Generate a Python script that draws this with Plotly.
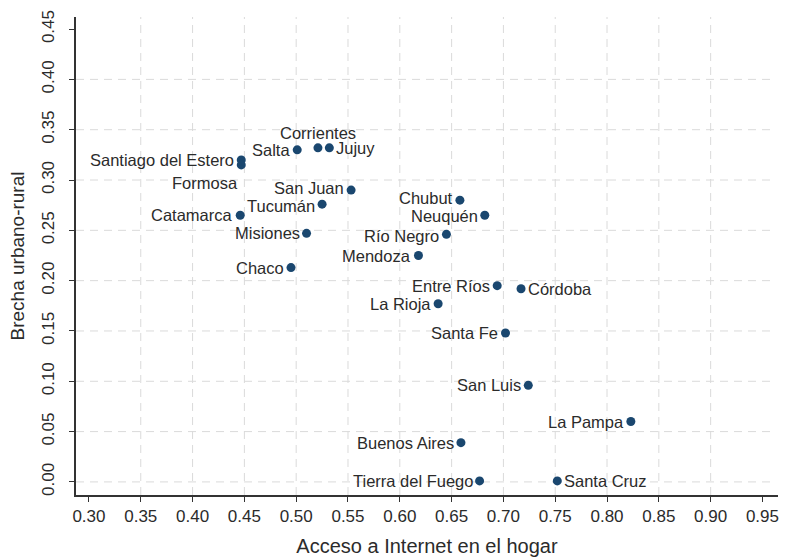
import plotly.graph_objects as go

# Provincias argentinas: acceso a Internet en el hogar vs. brecha urbano-rural
provinces = [
    "Salta", "Corrientes", "Jujuy", "Santiago del Estero", "Formosa",
    "San Juan", "Tucumán", "Chubut", "Neuquén", "Catamarca", "Misiones",
    "Río Negro", "Mendoza", "Chaco", "Entre Ríos", "Córdoba", "La Rioja",
    "Santa Fe", "San Luis", "La Pampa", "Buenos Aires", "Tierra del Fuego",
    "Santa Cruz",
]
internet = [
    0.501, 0.521, 0.532, 0.447, 0.447,
    0.553, 0.525, 0.658, 0.682, 0.446, 0.510,
    0.645, 0.618, 0.495, 0.694, 0.717, 0.637,
    0.702, 0.724, 0.823, 0.659, 0.677,
    0.752,
]
brecha = [
    0.330, 0.332, 0.332, 0.320, 0.315,
    0.290, 0.276, 0.280, 0.265, 0.265, 0.247,
    0.246, 0.225, 0.213, 0.195, 0.192, 0.177,
    0.148, 0.096, 0.060, 0.039, 0.001,
    0.001,
]

x_ticks = [0.30, 0.35, 0.40, 0.45, 0.50, 0.55, 0.60, 0.65, 0.70, 0.75,
           0.80, 0.85, 0.90, 0.95]
y_ticks = [0.00, 0.05, 0.10, 0.15, 0.20, 0.25, 0.30, 0.35, 0.40, 0.45]

# label placement, as clock positions around each marker
label_clock = {
    "Corrientes": 12, "Jujuy": 3, "Córdoba": 3, "Santa Cruz": 3, "Formosa": 7,
}
# small vertical nudges (px) for crowded labels
label_nudge = {"San Juan": 2, "Tucumán": -2, "Chubut": 2, "Neuquén": -1,
               "Río Negro": -2}

MARKER = "#1a476f"
TEXT = "#2b2b2b"
FONT = "Liberation Sans, Arial, sans-serif"

fig = go.Figure()
fig.add_trace(go.Scatter(
    x=internet, y=brecha, mode="markers",
    marker=dict(color=MARKER, size=9, line=dict(width=0)),
    hoverinfo="text", text=provinces, showlegend=False,
))

offsets = {
    9: dict(xanchor="right", yanchor="middle", xshift=-6, yshift=0),
    3: dict(xanchor="left", yanchor="middle", xshift=6, yshift=0),
    12: dict(xanchor="center", yanchor="bottom", xshift=0, yshift=5),
    7: dict(xanchor="right", yanchor="top", xshift=-2, yshift=-8),
}
annotations = []
for name, xv, yv in zip(provinces, internet, brecha):
    pos = dict(offsets[label_clock.get(name, 9)])
    pos["yshift"] += label_nudge.get(name, 0)
    annotations.append(dict(
        x=xv, y=yv, xref="x", yref="y", text=name, showarrow=False,
        borderpad=0, font=dict(family=FONT, size=16.5, color=TEXT), **pos,
    ))

# dashed grid, omitting the outermost ticks
shapes = []
grid = dict(color="#dadada", width=1, dash="8px,6px")
for xv in x_ticks[1:-1]:
    shapes.append(dict(type="line", xref="x", yref="paper", x0=xv, x1=xv,
                       y0=0, y1=1, line=grid, layer="below"))
for yv in y_ticks[:-1]:
    shapes.append(dict(type="line", xref="paper", yref="y", x0=0, x1=0.995,
                       y0=yv, y1=yv, line=grid, layer="below"))

fig.update_layout(
    width=785, height=558,
    margin=dict(l=76, r=7, t=17, b=63),
    paper_bgcolor="white", plot_bgcolor="white",
    font=dict(family=FONT, size=17, color=TEXT),
    annotations=annotations, shapes=shapes,
    xaxis=dict(
        range=[0.2875, 0.965], tickvals=x_ticks, automargin=False,
        ticktext=[f"{v:.2f}" for v in x_ticks],
        showgrid=False, zeroline=False, showline=True, linecolor="#333333",
        linewidth=1.5, ticks="outside", ticklen=5, tickcolor="#333333",
        tickfont=dict(size=17, color=TEXT),
        title=dict(text="Acceso a Internet en el hogar", standoff=14,
                   font=dict(size=20, color=TEXT)),
    ),
    yaxis=dict(
        range=[-0.013, 0.462], tickvals=y_ticks, automargin=False,
        ticktext=[f"{v:.2f}" for v in y_ticks], tickangle=-90,
        ticklabelstandoff=8,
        showgrid=False, zeroline=False, showline=True, linecolor="#333333",
        linewidth=1.5, ticks="outside", ticklen=5, tickcolor="#333333",
        tickfont=dict(size=17, color=TEXT),
        title=dict(text="Brecha urbano-rural", standoff=10,
                   font=dict(size=19, color=TEXT)),
    ),
)

fig.write_html("out.html")
